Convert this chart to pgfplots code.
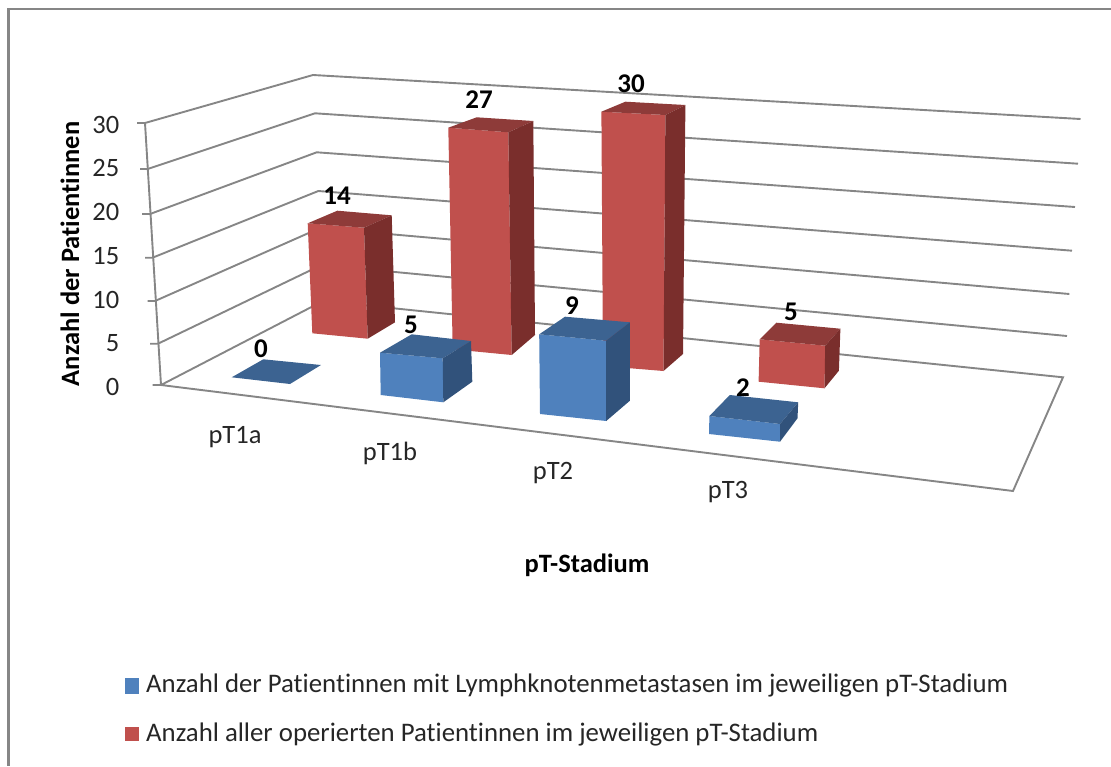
\documentclass[border=0pt]{standalone}
\usepackage{pgfplots}
\pgfplotsset{compat=1.18}
\usepackage{fontspec}
\setmainfont{Carlito}[Ligatures=NoCommon]
\definecolor{frame}{HTML}{868686}
\definecolor{redF}{HTML}{C0504D}
\definecolor{redT}{HTML}{8E3B39}
\definecolor{redS}{HTML}{7A2E2C}
\definecolor{bluF}{HTML}{4F81BD}
\definecolor{bluT}{HTML}{3C6391}
\definecolor{bluS}{HTML}{31527B}
\newcommand\face[2]{\addplot[fill=#1,draw=none,forget plot] coordinates {#2} --cycle;}
\newcommand\gline[1]{\addplot[draw=frame,line width=1.9pt,forget plot] coordinates {#1};}
\begin{document}
\begin{tikzpicture}
\path[use as bounding box] (0,0) rectangle (1111pt,766pt);
\begin{axis}[at={(0,0)},anchor=south west,scale only axis,width=1111pt,height=766pt,
  xmin=0,xmax=1111,ymin=0,ymax=766,y dir=reverse,axis lines=none,clip=false,no markers]
% frame
\addplot[draw=frame,line width=2.8pt,forget plot] coordinates {(1111,9) (8.5,9) (8.5,766)};
% y axis and ticks
\gline{(145,123) (161,385)}
\gline{(137,123) (145,123) (313,75) (1080.5,119)}
\gline{(140,169) (147.5,169) (315,113.3) (1078,163.7)}
\gline{(142,214) (150,214) (316.7,152.3) (1075,207)}
\gline{(145,257.7) (152.5,257.7) (318.3,191) (1072,250.7)}
\gline{(147.5,301) (155,301) (320,228) (1069.4,294)}
\gline{(150,343.7) (158,343.7) (321.5,265) (1067,336)}
\gline{(152.5,385) (161,385) (323,301) (1063,377.3) (1013,491) (161,385)}
% red series (rear row)
\face{redF}{(307.7,223.3) (364,227.7) (367.7,338.7) (312.3,333.3)}
\face{redT}{(307.7,223.3) (337.3,210.7) (391.7,215.3) (364,227.7)}
\face{redS}{(364,227.7) (391.7,215.3) (395,322.3) (367.7,338.7)}
\face{redF}{(448.3,127.7) (508.3,132.3) (511.7,355) (452.7,349.3)}
\face{redT}{(448.3,127.7) (476.7,117.3) (533.3,121) (508.3,132.3)}
\face{redS}{(508.3,132.3) (533.3,121) (535,335) (511.7,355)}
\face{redF}{(601.4,111.7) (665.4,115) (663.5,371) (603,366)}
\face{redT}{(601.4,111.7) (625.4,101.7) (685.4,105) (665.4,115)}
\face{redS}{(665.4,115) (685.4,105) (683,354) (663.5,371)}
\face{redF}{(759.7,339.3) (825.2,345.7) (824.5,388.3) (758.6,381.7)}
\face{redT}{(759.7,339.3) (776.4,322.7) (840.4,328.7) (825.2,345.7)}
\face{redS}{(825.2,345.7) (840.4,328.7) (838.9,370.7) (824.5,388.3)}
% blue series (front row)
\face{bluT}{(231.7,377.3) (263.3,359.3) (321,365) (290,384)}
\face{bluF}{(380,352.7) (442.7,358.3) (443.3,402.3) (380.7,395)}
\face{bluT}{(380,352.7) (411.7,334.3) (471,341) (442.7,358.3)}
\face{bluS}{(442.7,358.3) (471,341) (472.3,381.7) (443.3,402.3)}
\face{bluF}{(539.2,334.3) (606.2,340.7) (606.2,421) (540,414)}
\face{bluT}{(539.2,334.3) (565,316.7) (629.9,322.3) (606.2,340.7)}
\face{bluS}{(606.2,340.7) (629.9,322.3) (629.9,400.7) (606.2,421)}
\face{bluF}{(709.4,416) (780,424) (780,441.7) (709,434)}
\face{bluT}{(709.4,416) (729.8,395) (798.2,402.3) (780,424)}
\face{bluS}{(780,424) (798.2,402.3) (797.5,418.3) (780,441.7)}
% data labels: value held as point meta
\addplot[draw=none,forget plot,point meta=explicit symbolic,
  nodes near coords,nodes near coords align={center},
  every node near coord/.append style={font=\fontsize{27}{27}\selectfont\bfseries,text=black,anchor=center,inner sep=0pt}]
  coordinates {(337,196)[14] (479,100)[27] (631,84)[30] (791,312)[5] (261,349)[0] (411,325)[5] (572,306)[9] (743,388)[2]};
% legend swatches
\face{bluF}{(125,678) (139,678) (139,694) (125,694)}
\face{redF}{(125,727) (139,727) (139,741) (125,741)}
% texts
\begin{scope}[every node/.style={inner sep=0pt,text=black!85}]
\foreach \y/\t in {125/30,168/25,212/20,256/15,300/10,343/5,387/0}
  {\edef\tmp{\noexpand\node[anchor=east,font=\noexpand\fontsize{26.5}{26.5}\noexpand\selectfont] at (axis cs:119.5,\y) {\t};}\tmp}
\node[font=\fontsize{26.5}{26.5}\selectfont] at (axis cs:235,437) {pT1a};
\node[font=\fontsize{26.5}{26.5}\selectfont] at (axis cs:390,453) {pT1b};
\node[font=\fontsize{26.5}{26.5}\selectfont] at (axis cs:553,473) {pT2};
\node[font=\fontsize{26.5}{26.5}\selectfont] at (axis cs:728,492) {pT3};
\node[font=\fontsize{26.5}{26.5}\selectfont\bfseries,text=black,rotate=90] at (axis cs:70,254) {Anzahl der Patientinnen};
\node[font=\fontsize{26.5}{26.5}\selectfont\bfseries,text=black] at (axis cs:587,565) {pT-Stadium};
\node[anchor=west,font=\fontsize{26.8}{26.8}\selectfont] at (axis cs:146,685) {Anzahl der Patientinnen mit Lymphknotenmetastasen im jeweiligen pT-Stadium};
\node[anchor=west,font=\fontsize{26.8}{26.8}\selectfont] at (axis cs:146,734) {Anzahl aller operierten Patientinnen im jeweiligen pT-Stadium};
\end{scope}
\end{axis}
\end{tikzpicture}
\end{document}
